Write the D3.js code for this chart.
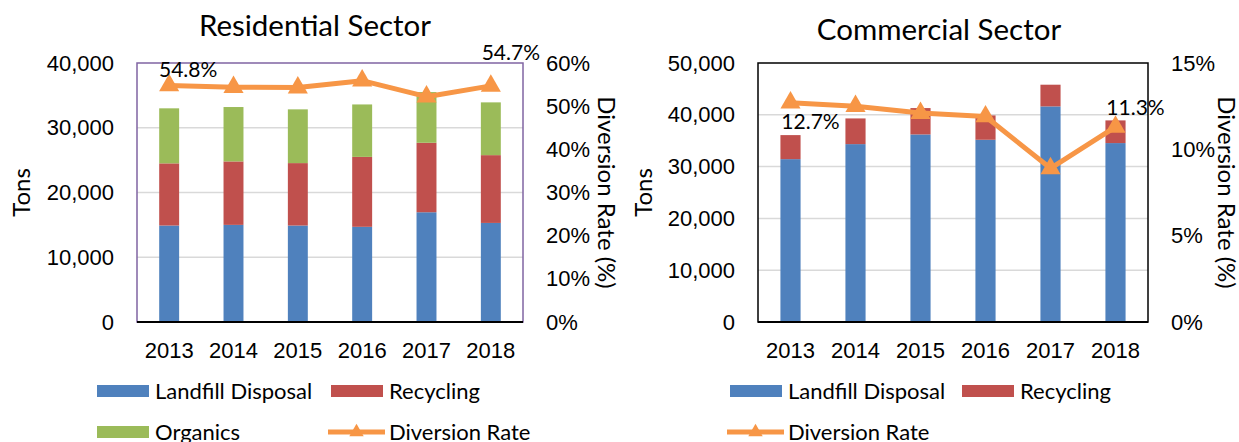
<!DOCTYPE html>
<html lang="en">
<head>
<meta charset="utf-8">
<style>
    body { margin: 0; background: #fff; }
    svg { display: block; font-family: Lato, "Open Sans", sans-serif; fill: #000; }
    .grid line { stroke: #d9d9d9; stroke-width: 1.5; }
    .axis text { font-size: 22px; }
    .title { font-size: 29.5px; }
    .axis-title { font-size: 24px; }
    .legend text { font-size: 22px; }
    .rate-line { fill: none; stroke: #f79646; stroke-width: 5; stroke-linejoin: round; }
</style>
</head>
<body>
<svg width="1239" height="442"></svg>
<script src="https://cdn.jsdelivr.net/npm/d3@7"></script>
<script>

    // values
    var years = ["2013", "2014", "2015", "2016", "2017", "2018"];

    var resLandfill  = [14900, 15000, 14900, 14700, 16950, 15300];
    var resRecycling = [9600, 9800, 9640, 10800, 10730, 10470];
    var resOrganics  = [8500, 8400, 8300, 8100, 7830, 8150];
    var resRate      = [54.8, 54.4, 54.3, 55.9, 52.2, 54.7];

    var comLandfill  = [31440, 34340, 36210, 35180, 41620, 34540];
    var comRecycling = [4640, 4960, 5090, 4700, 4190, 4380];
    var comRate      = [12.7, 12.5, 12.1, 11.9, 8.9, 11.3];

    var resTonTicks  = [0, 10000, 20000, 30000, 40000];
    var resRateTicks = [0, 10, 20, 30, 40, 50, 60];
    var comTonTicks  = [0, 10000, 20000, 30000, 40000, 50000];
    var comRateTicks = [0, 5, 10, 15];

    var colors = {
        landfill: "#4f81bd",
        recycling: "#c0504d",
        organics: "#9bbb59",
        rate: "#f79646"
    };

    var svg = d3.select("svg");
    var fmtTons = d3.format(",");

    function drawPanel(o) {
        var g = svg.append("g");
        var top = 63, bottom = 322;

        var x = d3.scaleBand()
            .domain(years)
            .range([o.left, o.right])
            .paddingInner(0.69)
            .paddingOuter(0.345);

        var y = d3.scaleLinear()
            .domain([0, d3.max(o.tonTicks)])
            .range([bottom, top]);

        var yr = d3.scaleLinear()
            .domain([0, d3.max(o.rateTicks)])
            .range([bottom, top]);

        // gridlines
        g.append("g")
            .attr("class", "grid")
            .selectAll("line")
            .data(o.tonTicks.slice(1, -1))
            .enter().append("line")
            .attr("x1", o.left).attr("x2", o.right)
            .attr("y1", function (d) { return y(d); })
            .attr("y2", function (d) { return y(d); });

        // stacked bars
        var keys = o.series.map(function (s) { return s.key; });
        var rows = years.map(function (yr, i) {
            var r = { year: yr };
            o.series.forEach(function (s) { r[s.key] = s.values[i]; });
            return r;
        });
        var stack = d3.stack().keys(keys)(rows);

        g.selectAll("g.layer")
            .data(stack)
            .enter().append("g")
            .attr("class", "layer")
            .attr("fill", function (d) { return colors[d.key]; })
            .selectAll("rect")
            .data(function (d) { return d; })
            .enter().append("rect")
            .attr("x", function (d) { return x(d.data.year); })
            .attr("width", x.bandwidth())
            .attr("y", function (d) { return y(d[1]); })
            .attr("height", function (d) { return y(d[0]) - y(d[1]); });

        // plot border + base line
        g.append("rect")
            .attr("x", o.left).attr("y", top)
            .attr("width", o.right - o.left).attr("height", bottom - top)
            .attr("fill", "none")
            .attr("stroke", o.border)
            .attr("stroke-width", 1.5);

        g.append("line")
            .attr("x1", o.left).attr("x2", o.right)
            .attr("y1", bottom).attr("y2", bottom)
            .attr("stroke", "#000")
            .attr("stroke-width", 2.2);

        // diversion rate line
        var cx = function (d, i) { return x(years[i]) + x.bandwidth() / 2; };
        g.append("path")
            .datum(o.rate)
            .attr("class", "rate-line")
            .attr("d", d3.line().x(cx).y(function (d) { return yr(d); }));

        g.selectAll("path.marker")
            .data(o.rate)
            .enter().append("path")
            .attr("class", "marker")
            .attr("fill", colors.rate)
            .attr("d", d3.symbol().type(d3.symbolTriangle).size(175))
            .attr("transform", function (d, i) { return "translate(" + cx(d, i) + "," + yr(d) + ")"; });

        // data labels
        o.labels.forEach(function (l) {
            g.append("text")
                .attr("x", cx(null, l.i) + l.dx)
                .attr("y", yr(o.rate[l.i]) + l.dy)
                .attr("text-anchor", "middle")
                .attr("dy", "0.35em")
                .style("font-size", "21px")
                .text(o.rate[l.i].toFixed(1) + "%");
        });

        // axes
        g.append("g")
            .attr("class", "axis")
            .attr("transform", "translate(" + (o.left - 23) + ",0)")
            .call(d3.axisLeft(y).tickValues(o.tonTicks).tickSize(0).tickPadding(0).tickFormat(fmtTons))
            .call(function (a) { a.select(".domain").remove(); });

        g.append("g")
            .attr("class", "axis")
            .attr("transform", "translate(" + (o.right + 23) + ",0)")
            .call(d3.axisRight(yr).tickValues(o.rateTicks).tickSize(0).tickPadding(0).tickFormat(function (d) { return d + "%"; }))
            .call(function (a) { a.select(".domain").remove(); });

        g.append("g")
            .attr("class", "axis")
            .attr("transform", "translate(0," + (bottom + 12) + ")")
            .call(d3.axisBottom(x).tickSize(0).tickPadding(8))
            .call(function (a) { a.select(".domain").remove(); });

        svg.selectAll(".axis text").attr("fill", "#000").style("font-family", null);

        // titles
        g.append("text")
            .attr("class", "title")
            .attr("x", o.titleX).attr("y", o.titleY)
            .attr("text-anchor", "middle")
            .text(o.title);

        g.append("text")
            .attr("class", "axis-title")
            .attr("transform", "translate(" + o.tonsX + "," + (top + bottom) / 2 + ") rotate(-90)")
            .attr("text-anchor", "middle")
            .attr("dy", "0.35em")
            .text("Tons");

        g.append("text")
            .attr("class", "axis-title")
            .attr("transform", "translate(" + o.rateTitleX + "," + (top + bottom) / 2 + ") rotate(90)")
            .attr("text-anchor", "middle")
            .attr("dy", "0.35em")
            .text("Diversion Rate (%)");

        // legend
        var lg = g.append("g").attr("class", "legend");
        o.legend.forEach(function (e) {
            var item = lg.append("g").attr("transform", "translate(" + e.x + "," + e.y + ")");
            if (e.key === "rate") {
                item.append("line")
                    .attr("x1", 0).attr("x2", 57)
                    .attr("stroke", colors.rate)
                    .attr("stroke-width", 5);
                item.append("path")
                    .attr("fill", colors.rate)
                    .attr("d", d3.symbol().type(d3.symbolTriangle).size(90))
                    .attr("transform", "translate(28.5,0)");
                item.append("text").attr("x", 61).attr("dy", "0.35em").text(e.label);
            } else {
                item.append("rect")
                    .attr("x", 0).attr("y", -6)
                    .attr("width", 52).attr("height", 12)
                    .attr("fill", colors[e.key]);
                item.append("text").attr("x", 58).attr("dy", "0.35em").text(e.label);
            }
        });
    }

    drawPanel({
        left: 137, right: 523,
        title: "Residential Sector", titleX: 315, titleY: 36,
        tonsX: 22, rateTitleX: 606,
        border: "#8064a2",
        series: [
            { key: "landfill", values: resLandfill },
            { key: "recycling", values: resRecycling },
            { key: "organics", values: resOrganics }
        ],
        rate: resRate,
        tonTicks: resTonTicks,
        rateTicks: resRateTicks,
        labels: [{ i: 0, dx: 19, dy: -16 }, { i: 5, dx: 20, dy: -33 }],
        legend: [
            { key: "landfill", label: "Landfill Disposal", x: 97, y: 391 },
            { key: "recycling", label: "Recycling", x: 331, y: 391 },
            { key: "organics", label: "Organics", x: 97, y: 432 },
            { key: "rate", label: "Diversion Rate", x: 328, y: 432 }
        ]
    });

    drawPanel({
        left: 758, right: 1148,
        title: "Commercial Sector", titleX: 939, titleY: 40,
        tonsX: 644, rateTitleX: 1226,
        border: "#000",
        series: [
            { key: "landfill", values: comLandfill },
            { key: "recycling", values: comRecycling }
        ],
        rate: comRate,
        tonTicks: comTonTicks,
        rateTicks: comRateTicks,
        labels: [{ i: 0, dx: 20, dy: 19 }, { i: 5, dx: 20, dy: -19 }],
        legend: [
            { key: "landfill", label: "Landfill Disposal", x: 730, y: 391 },
            { key: "recycling", label: "Recycling", x: 962, y: 391 },
            { key: "rate", label: "Diversion Rate", x: 727, y: 432 }
        ]
    });

</script>
</body>
</html>
